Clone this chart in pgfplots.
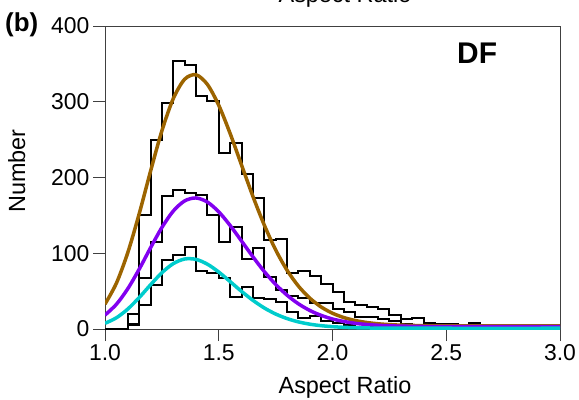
\documentclass[border=0pt]{standalone}
\usepackage{pgfplots}
\pgfplotsset{compat=1.18}
\usepackage{fontspec}
\setmainfont{Liberation Sans}
\definecolor{cbrown}{RGB}{156,100,0}
\definecolor{cpurple}{RGB}{130,0,240}
\definecolor{ccyan}{RGB}{0,204,204}
\begin{document}
\begin{tikzpicture}[x=1bp,y=1bp]
\useasboundingbox (0,0) rectangle (579,399);
\begin{axis}[
  at={(105bp,70bp)}, anchor=south west,
  scale only axis, width=455bp, height=303bp,
  xmin=1, xmax=3, ymin=0, ymax=400,
  xtick={1,1.5,2,2.5,3}, ytick={0,100,200,300,400},
  xticklabel style={/pgf/number format/.cd, fixed, fixed zerofill, precision=1},
  /pgf/number format/assume math mode=true,
  ticklabel style={font=\fontsize{23}{27}\selectfont},
  tick align=outside, tick pos=left, major tick length=12bp,
  axis line style={line width=1bp, black!75},
  tick style={line width=1bp, black!75},
  clip=true,
]
% histograms (bin left edges, width 0.05)
\addplot[const plot, black, line width=2bp] coordinates {
(1.00,0)(1.05,0)(1.10,20)(1.15,150)(1.20,250)(1.25,299)(1.30,354)(1.35,349)(1.40,308)(1.45,301)
(1.50,232)(1.55,246)(1.60,205)(1.65,173)(1.70,117)(1.75,119)(1.80,74)(1.85,77)(1.90,70)(1.95,60)
(2.00,49)(2.05,35)(2.10,32)(2.15,28.6)(2.20,26)(2.25,18.5)(2.30,12.8)(2.35,14)(2.40,7.5)(2.45,6.5)
(2.50,7)(2.55,5)(2.60,8)(2.65,4)(2.70,4)(2.75,5)(2.80,5)(2.85,1)(2.90,1)(2.95,1)(3.00,1)};
\addplot[const plot, black, line width=2bp] coordinates {
(1.00,0)(1.05,0)(1.10,6)(1.15,67)(1.20,115)(1.25,175)(1.30,183.5)(1.35,179)(1.40,177)(1.45,150.5)
(1.50,115)(1.55,135)(1.60,93)(1.65,106.5)(1.70,69)(1.75,52)(1.80,43)(1.85,41)(1.90,34)(1.95,34)
(2.00,26)(2.05,22)(2.10,16)(2.15,16)(2.20,13)(2.25,10)(2.30,6)(2.35,5)(2.40,3)(2.45,2)
(2.50,2)(2.55,1)(2.60,1)(2.65,0)(2.70,0)(2.75,0)(2.80,0)(2.85,0)(2.90,0)(2.95,0)(3.00,0)};
\addplot[const plot, black, line width=2bp] coordinates {
(1.00,0)(1.05,0)(1.10,5)(1.15,32)(1.20,58)(1.25,91)(1.30,97.7)(1.35,108.6)(1.40,77)(1.45,74)
(1.50,67)(1.55,42.7)(1.60,56)(1.65,40.5)(1.70,40)(1.75,36)(1.80,22)(1.85,15)(1.90,17)(1.95,10)
(2.00,8)(2.05,5)(2.10,6)(2.15,4)(2.20,3)(2.25,2)(2.30,1)(2.35,0)(2.40,0)(2.45,0)
(2.50,0)(2.55,0)(2.60,0)(2.65,0)(2.70,0)(2.75,0)(2.80,0)(2.85,0)(2.90,0)(2.95,0)(3.00,0)};
% fitted curves
\addplot[cbrown, line width=3.5bp, smooth] coordinates {
(1.00,32.9)(1.05,60.4)(1.10,100.7)(1.15,151.8)(1.20,208.1)(1.25,261.6)(1.30,304.1)(1.35,329.7)(1.40,335.6)
(1.45,322.9)(1.50,295.3)(1.55,258.1)(1.60,216.6)(1.65,175.2)(1.70,137.3)(1.75,104.5)(1.80,77.7)(1.85,56.7)
(1.90,40.8)(1.95,29.1)(2.00,20.8)(2.05,15.1)(2.10,11.2)(2.15,8.6)(2.20,6.9)(2.25,5.8)(2.30,5.1)(2.40,4.4)
(2.50,4.1)(2.75,4.0)(3.00,4.0)};
\addplot[cpurple, line width=3.5bp, smooth] coordinates {
(1.00,18.4)(1.05,32.6)(1.10,53.1)(1.15,78.8)(1.20,107.1)(1.25,134.0)(1.30,155.7)(1.35,169.1)(1.40,173.0)
(1.45,167.6)(1.50,154.7)(1.55,136.7)(1.60,116.2)(1.65,95.4)(1.70,75.9)(1.75,58.9)(1.80,44.7)(1.85,33.3)
(1.90,24.5)(1.95,18.0)(2.00,13.2)(2.05,9.9)(2.10,7.5)(2.15,6.0)(2.20,4.9)(2.25,4.2)(2.30,3.8)(2.40,3.3)
(2.50,3.1)(2.75,3.0)(3.00,3.0)};
\addplot[ccyan, line width=3.5bp, smooth] coordinates {
(1.00,7.5)(1.05,14.8)(1.10,26.3)(1.15,41.4)(1.20,58.3)(1.25,74.3)(1.30,86.3)(1.35,92.4)(1.40,91.9)
(1.45,85.6)(1.50,75.2)(1.55,62.6)(1.60,49.7)(1.65,37.9)(1.70,27.8)(1.75,19.8)(1.80,13.8)(1.85,9.4)
(1.90,6.4)(1.95,4.4)(2.00,3.1)(2.05,2.2)(2.10,1.7)(2.15,1.4)(2.20,1.2)(2.30,1.1)(2.50,1.0)(3.00,1.0)};
\end{axis}
\node[font=\fontsize{23.5}{28}\selectfont, anchor=base] at (345,5.7) {Aspect Ratio};
\node[font=\fontsize{23.5}{28}\selectfont, anchor=base, rotate=90] at (25,228) {Number};
\node[font=\bfseries\fontsize{26}{30}\selectfont, anchor=base west, inner sep=0pt] at (5,368) {(b)};
\node[font=\bfseries\fontsize{30}{34}\selectfont, anchor=base west, inner sep=0pt] at (457,335.7) {DF};
\node[font=\fontsize{23.5}{28}\selectfont, anchor=base] at (345,396.5) {Aspect Ratio};
\end{tikzpicture}
\end{document}
